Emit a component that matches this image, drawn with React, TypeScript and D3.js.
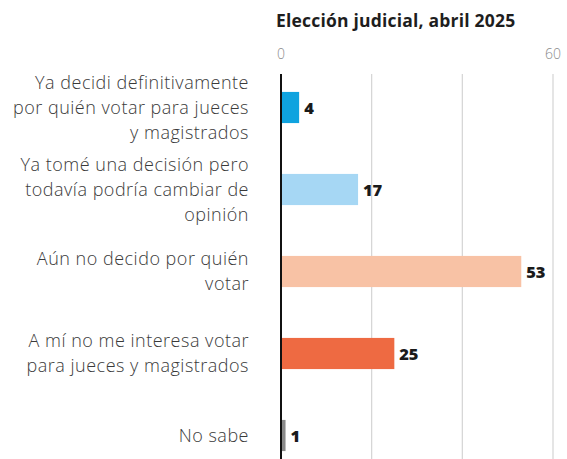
import React from "react";
import * as d3 from "d3";

const categories: string[][] = [
  ["Ya decidi definitivamente", "por quién votar para jueces", "y magistrados"],
  ["Ya tomé una decisión pero", "todavía podría cambiar de", "opinión"],
  ["Aún no decido por quién", "votar"],
  ["A mí no me interesa votar", "para jueces y magistrados"],
  ["No sabe"],
];
const values: number[] = [4, 17, 53, 25, 1];
const colors: string[] = ["#0fa3df", "#a6d7f4", "#f8c2a5", "#ee6a42", "#8a8a8a"];
const tickValues: number[] = [0, 60];
const gridValues: number[] = [20, 40, 60];
const title = "Elección judicial, abril 2025";

const W = 567;
const H = 459;

export default function App() {
  const x = d3.scaleLinear().domain([0, 60]).range([281, 553]);
  const y = d3
    .scaleBand<number>()
    .domain(values.map((_, i) => i))
    .range([66.5, 476.5])
    .paddingInner(0.62)
    .paddingOuter(0.31);
  const bw = y.bandwidth();
  const lineH = 25;

  return (
    <svg
      width={W}
      height={H}
      viewBox={`0 0 ${W} ${H}`}
      style={{ position: "absolute", left: 0, top: 0, background: "#fff" }}
    >
      <text
        x={276}
        y={27}
        fontFamily="'Open Sans', sans-serif"
        fontWeight={700}
        fontSize={17.5}
        letterSpacing={0.2}
        fill="#1e1e1e"
      >
        {title}
      </text>
      {tickValues.map((t) => (
        <text
          key={t}
          x={x(t)}
          y={59}
          textAnchor="middle"
          fontFamily="'Open Sans', sans-serif"
          fontWeight={300}
          fontSize={14}
          fill="#8c8c8c"
        >
          {t}
        </text>
      ))}
      {gridValues.map((g) => (
        <line
          key={g}
          x1={x(g)}
          x2={x(g)}
          y1={74}
          y2={H}
          stroke="#d4d4d4"
          strokeWidth={1.2}
        />
      ))}
      {values.map((v, i) => {
        const y0 = y(i)!;
        const cy = y0 + bw / 2;
        const lines = categories[i];
        const first = cy - ((lines.length - 1) * lineH) / 2;
        return (
          <g key={i}>
            <rect x={x(0)} y={y0} width={x(v) - x(0)} height={bw} fill={colors[i]} />
            <text
              x={x(v) + 5}
              y={cy + 6}
              fontFamily="'Open Sans', sans-serif"
              fontWeight={800}
              fontSize={16.5}
              letterSpacing={-0.3}
              fill="#1a1a1a"
            >
              {v}
            </text>
            {lines.map((ln, j) => (
              <text
                key={j}
                x={249}
                y={first + j * lineH + 6}
                textAnchor="end"
                fontFamily="'Open Sans', sans-serif"
                fontWeight={300}
                fontSize={18}
                letterSpacing={0.5}
                fill="#3a3a3a"
              >
                {ln}
              </text>
            ))}
          </g>
        );
      })}
      <line x1={x(0)} x2={x(0)} y1={74} y2={H} stroke="#111" strokeWidth={2} />
    </svg>
  );
}
